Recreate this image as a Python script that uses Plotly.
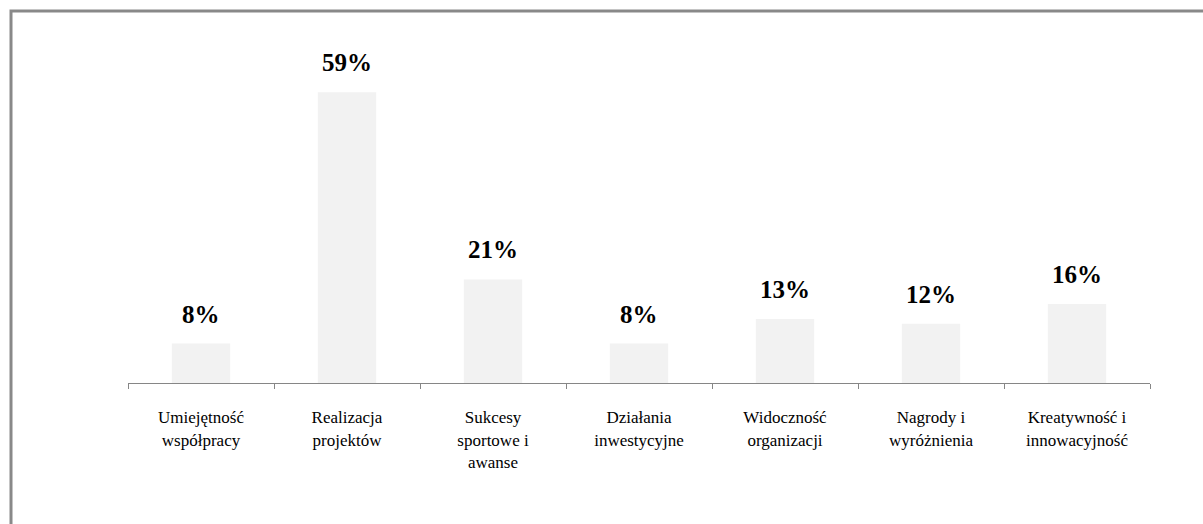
import plotly.graph_objects as go

categories = [
    "Umiejętność<br>współpracy",
    "Realizacja<br>projektów",
    "Sukcesy<br>sportowe i<br>awanse",
    "Działania<br>inwestycyjne",
    "Widoczność<br>organizacji",
    "Nagrody i<br>wyróżnienia",
    "Kreatywność i<br>innowacyjność",
]
values = [8, 59, 21, 8, 13, 12, 16]
value_labels = ["8%", "59%", "21%", "8%", "13%", "12%", "16%"]

W, H = 1203, 524
ml, mr, mt, mb = 128, 53, 38, 141
pw, ph = W - ml - mr, H - mt - mb

fig = go.Figure()
fig.add_trace(go.Bar(
    x=categories, y=values,
    marker=dict(color="#f2f2f2", line=dict(width=0)),
    hoverinfo="skip",
))

for c, v, t in zip(categories, values, value_labels):
    fig.add_annotation(
        x=c, y=v, text=t, showarrow=False, yanchor="bottom", yshift=14,
        font=dict(family="Liberation Serif", size=25, color="#000000", weight="bold"),
    )

# outer frame (only top and left edges visible in the window)
bx = (11 - ml) / pw
by = 1 + (mt - 11) / ph
fig.add_shape(type="rect", xref="paper", yref="paper",
              x0=bx, y0=-1, x1=1.5, y1=by,
              line=dict(color="#898989", width=3), fillcolor="rgba(0,0,0,0)", layer="below")

fig.update_layout(
    width=W, height=H,
    margin=dict(l=ml, r=mr, t=mt, b=mb),
    paper_bgcolor="white", plot_bgcolor="white",
    bargap=0.6, showlegend=False,
    font=dict(family="Liberation Serif", color="#000000"),
)
fig.update_xaxes(
    showline=True, linecolor="#868686", linewidth=1,
    ticks="outside", tickson="boundaries", ticklen=5, tickcolor="#868686",
    tickfont=dict(family="Liberation Serif", size=17, color="#000000"),
    ticklabelstandoff=19,
    showgrid=False, zeroline=False,
)
fig.update_yaxes(
    range=[0, 345 / 4.93], visible=False, showgrid=False, zeroline=False,
)

fig.write_html("out.html", config={"displayModeBar": False})

with open("out.html", "r", encoding="utf-8") as f:
    html = f.read()
html = html.replace("<head>", "<head><style>html,body{margin:0;padding:0;overflow:hidden;}</style>", 1)
with open("out.html", "w", encoding="utf-8") as f:
    f.write(html)
